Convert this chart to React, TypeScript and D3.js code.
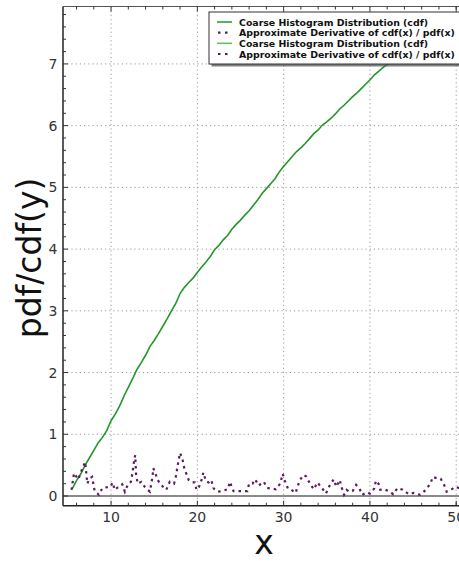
import React from "react";
import * as d3 from "d3";

const cdfX = [5.5, 6.0, 6.5, 7.0, 7.5, 8.0, 8.5, 9.0, 9.5, 10.0, 10.5, 11.0, 11.5, 12.0, 12.5, 13.0, 13.5, 14.0, 14.5, 15.0, 15.5, 16.0, 16.5, 17.0, 17.5, 18.0, 18.5, 19.0, 19.5, 20.0, 20.5, 21.0, 21.5, 22.0, 22.5, 23.0, 23.5, 24.0, 24.5, 25.0, 25.5, 26.0, 26.5, 27.0, 27.5, 28.0, 28.5, 29.0, 29.5, 30.0, 30.5, 31.0, 31.5, 32.0, 32.5, 33.0, 33.5, 34.0, 34.5, 35.0, 35.5, 36.0, 36.5, 37.0, 37.5, 38.0, 38.5, 39.0, 39.5, 40.0, 40.5, 41.0, 41.5, 42.0, 42.5, 43.0, 44.0, 45.0, 46.0];
const cdfY = [0.12, 0.25, 0.36, 0.5, 0.62, 0.74, 0.86, 0.95, 1.06, 1.22, 1.33, 1.46, 1.62, 1.76, 1.9, 2.05, 2.16, 2.28, 2.42, 2.52, 2.63, 2.75, 2.87, 3.0, 3.12, 3.28, 3.38, 3.46, 3.53, 3.62, 3.71, 3.79, 3.88, 3.99, 4.06, 4.15, 4.22, 4.32, 4.4, 4.47, 4.55, 4.62, 4.71, 4.8, 4.9, 4.98, 5.06, 5.14, 5.25, 5.34, 5.42, 5.5, 5.58, 5.64, 5.71, 5.79, 5.87, 5.93, 6.01, 6.06, 6.12, 6.19, 6.27, 6.33, 6.4, 6.47, 6.53, 6.6, 6.67, 6.74, 6.82, 6.88, 6.94, 6.99, 7.05, 7.12, 7.25, 7.38, 7.5];

const pdfX = [5.42, 5.7, 6.2, 6.6, 7.0, 7.25, 7.5, 7.8, 8.1, 8.6, 9.0, 9.9, 10.2, 10.4, 10.9, 11.3, 11.6, 12.0, 12.3, 12.5, 12.7, 12.8, 12.9, 13.1, 13.5, 13.9, 14.1, 14.5, 14.8, 14.9, 15.2, 15.4, 15.8, 16.4, 16.8, 17.3, 17.5, 17.8, 18.0, 18.3, 18.5, 18.7, 19.0, 19.4, 19.7, 19.9, 20.2, 20.5, 20.7, 21.0, 21.3, 21.6, 21.9, 22.4, 22.9, 23.5, 23.8, 24.0, 24.2, 25.0, 25.8, 26.0, 26.4, 26.7, 27.1, 27.7, 28.1, 28.6, 29.1, 29.6, 29.9, 30.1, 30.5, 30.8, 31.4, 31.6, 31.9, 32.3, 32.6, 33.1, 33.5, 33.9, 34.5, 34.9, 35.3, 35.8, 36.1, 36.5, 36.7, 37.0, 37.3, 37.6, 38.0, 38.4, 38.8, 39.1, 39.7, 40.0, 40.5, 40.7, 41.0, 41.2, 41.6, 42.2, 42.7, 43.2, 43.8, 44.5, 45.1, 45.8, 46.5, 47.0, 47.3, 47.7, 48.2, 48.6, 48.9, 49.4, 49.9, 50.5, 51.2];
const pdfY = [0.1, 0.37, 0.27, 0.42, 0.55, 0.2, 0.28, 0.31, 0.08, 0.02, 0.13, 0.15, 0.22, 0.1, 0.15, 0.19, 0.07, 0.2, 0.23, 0.39, 0.61, 0.66, 0.34, 0.2, 0.23, 0.15, 0.12, 0.07, 0.31, 0.45, 0.34, 0.26, 0.18, 0.1, 0.23, 0.2, 0.31, 0.56, 0.7, 0.58, 0.44, 0.37, 0.26, 0.22, 0.22, 0.1, 0.15, 0.27, 0.38, 0.24, 0.22, 0.26, 0.12, 0.07, 0.08, 0.11, 0.23, 0.13, 0.08, 0.08, 0.08, 0.2, 0.2, 0.27, 0.17, 0.23, 0.13, 0.12, 0.11, 0.2, 0.36, 0.26, 0.12, 0.11, 0.05, 0.15, 0.26, 0.34, 0.32, 0.19, 0.11, 0.22, 0.12, 0.04, 0.16, 0.27, 0.15, 0.26, 0.15, 0.02, 0.1, 0.07, 0.08, 0.18, 0.12, 0.02, 0.06, 0.04, 0.12, 0.25, 0.2, 0.1, 0.11, 0.08, 0.03, 0.13, 0.1, 0.03, 0.05, 0.02, 0.1, 0.2, 0.31, 0.29, 0.28, 0.18, 0.07, 0.1, 0.15, 0.12, 0.18];

const xMajorTicks = [10, 20, 30, 40, 50];
const xMinorTicks = [6, 8, 12, 14, 16, 18, 22, 24, 26, 28, 32, 34, 36, 38, 42, 44, 46, 48, 50];
const yMajorTicks = [0, 1, 2, 3, 4, 5, 6, 7];
const yMinorStep = 0.2;

const legendLabels = [
  "Coarse Histogram Distribution (cdf)",
  "Approximate Derivative of cdf(x) / pdf(x)",
  "Coarse Histogram Distribution (cdf)",
  "Approximate Derivative of cdf(x) / pdf(x)",
];
const legendKinds = ["solid", "dot", "solid2", "dot"];

const W = 459;
const H = 562;
const L = 63;
const R = 470;
const T = 6.5;
const B = 505.7;
const FONT = "DejaVu Sans, sans-serif";
const GREEN = "#24962a";
const GREEN2 = "#5cbf5c";
const PURPLE = "#5e1b62";

export default function App() {
  const x = d3.scaleLinear().domain([4.43, 51.6]).range([L, R]);
  const y = d3.scaleLinear().domain([-0.157, 7.93]).range([B, T]);

  const cdfPts: [number, number][] = cdfX.map((v, i) => [v, cdfY[i]]);
  const pdfPts: [number, number][] = pdfX.map((v, i) => [v, pdfY[i]]);
  const line = d3
    .line<[number, number]>()
    .x((d) => x(d[0]))
    .y((d) => y(d[1]));

  const yMinor: number[] = [];
  for (let v = -0.0; v <= 7.9; v += yMinorStep) {
    const r = Math.round(v * 10) / 10;
    if (Math.abs(r - Math.round(r)) > 0.01) yMinor.push(r);
  }

  const lx = 209;
  const ly = 12;
  const lw = 258;
  const lh = 52;
  const rowY = [22, 32.7, 43.3, 54];

  return (
    <svg width={W} height={H} style={{ position: "absolute", left: 0, top: 0 }} fontFamily={FONT}>
      <rect x={0} y={0} width={W} height={H} fill="#fff" />
      <defs>
        <clipPath id="plotclip">
          <rect x={L} y={T} width={R - L} height={B - T} />
        </clipPath>
      </defs>
      {/* grid */}
      <g stroke="#9a9a9a" strokeWidth={1} strokeDasharray="1.2,3">
        {xMajorTicks.map((t) => (
          <line key={"gx" + t} x1={x(t)} x2={x(t)} y1={T} y2={B} />
        ))}
        {yMajorTicks.map((t) => (
          <line key={"gy" + t} x1={L} x2={R} y1={y(t)} y2={y(t)} />
        ))}
      </g>
      {/* zero line */}
      <line x1={L} x2={R} y1={y(0)} y2={y(0)} stroke="#8a8a8a" strokeWidth={2} />
      <g clipPath="url(#plotclip)">
        <path d={line(cdfPts) || ""} fill="none" stroke={GREEN} strokeWidth={1.6} strokeLinejoin="miter" />
        <path d={line(pdfPts) || ""} fill="none" stroke={PURPLE} strokeWidth={2.2} strokeDasharray="2.5,4" />
      </g>
      {/* spines */}
      <line x1={L} x2={R} y1={T} y2={T} stroke="#555" strokeWidth={1.2} />
      <line x1={L} x2={R} y1={B} y2={B} stroke="#222" strokeWidth={1.5} />
      <line x1={L} x2={L} y1={T} y2={B} stroke="#222" strokeWidth={1.5} />
      {/* ticks */}
      <g stroke="#333" strokeWidth={1}>
        {xMajorTicks.map((t) => (
          <g key={"xt" + t}>
            <line x1={x(t)} x2={x(t)} y1={B} y2={B - 5} />
            <line x1={x(t)} x2={x(t)} y1={T} y2={T + 5} />
          </g>
        ))}
        {xMinorTicks.map((t) => (
          <g key={"xm" + t}>
            <line x1={x(t)} x2={x(t)} y1={B} y2={B - 3} />
            <line x1={x(t)} x2={x(t)} y1={T} y2={T + 3} />
          </g>
        ))}
        {yMajorTicks.map((t) => (
          <line key={"yt" + t} x1={L} x2={L + 5} y1={y(t)} y2={y(t)} />
        ))}
        {yMinor.map((t) => (
          <line key={"ym" + t} x1={L} x2={L + 3} y1={y(t)} y2={y(t)} />
        ))}
      </g>
      {/* tick labels */}
      <g fill="#333" fontSize={14}>
        {xMajorTicks.map((t) => (
          <text key={"xl" + t} x={x(t)} y={522} textAnchor="middle">
            {t}
          </text>
        ))}
        {yMajorTicks.map((t) => (
          <text key={"yl" + t} x={57.5} y={y(t) + 5} textAnchor="end">
            {t}
          </text>
        ))}
      </g>
      {/* axis labels */}
      <text x={264} y={554} textAnchor="middle" fontSize={33} fill="#111">
        x
      </text>
      <text transform="translate(41,258) rotate(-90)" textAnchor="middle" fontSize={33} fill="#111">
        pdf/cdf(y)
      </text>
      {/* legend */}
      <rect x={lx + 2.5} y={ly + 2.5} width={lw} height={lh} fill="#555" opacity={0.75} />
      <rect x={lx} y={ly} width={lw} height={lh} fill="#fff" stroke="#333" strokeWidth={1} />
      {legendLabels.map((lab, i) => {
        const k = legendKinds[i];
        const ry = rowY[i];
        return (
          <g key={"lg" + i}>
            {k === "dot" ? (
              <line x1={217} x2={232} y1={ry} y2={ry} stroke={PURPLE} strokeWidth={2.2} strokeDasharray="2.5,4.5" strokeDashoffset={-1} />
            ) : (
              <line x1={217} x2={232} y1={ry} y2={ry} stroke={k === "solid" ? GREEN : GREEN2} strokeWidth={1.5} />
            )}
            <text x={239} y={ry + 3.5} fontSize={9.4} fontWeight="bold" fill="#111">
              {lab}
            </text>
          </g>
        );
      })}
    </svg>
  );
}
